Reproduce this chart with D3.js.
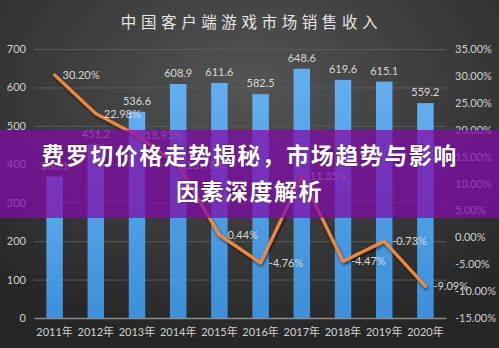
<!DOCTYPE html>
<html>
<head>
<meta charset="utf-8">
<script src="https://cdn.jsdelivr.net/npm/d3@7"></script>
<style>
  html, body { margin: 0; padding: 0; background: #333; }
  svg { display: block; }
</style>
</head>
<body>
<svg id="chart" width="499" height="348"></svg>
<script>
// Client game market revenue (亿元) and year-on-year growth (%)
const years = ["2011年","2012年","2013年","2014年","2015年","2016年","2017年","2018年","2019年","2020年"];
const revenue = [368.1, 451.2, 536.6, 608.9, 611.6, 582.5, 648.6, 619.6, 615.1, 559.2];
const growth = [30.20, 22.98, 18.93, 13.47, 0.44, -4.76, 11.35, -4.47, -0.73, -9.09];
const leftTicks = [0, 100, 200, 300, 400, 500, 600, 700];
const rightTicks = [-15, -10, -5, 0, 5, 10, 15, 20, 25, 30, 35];
const titleText = "中国客户端游戏市场销售收入";
const bannerLines = ["费罗切价格走势揭秘，市场趋势与影响", "因素深度解析"];

const W = 499, H = 348;
const svg = d3.select("#chart");
const defs = svg.append("defs");

const bg = defs.append("radialGradient").attr("id", "bg")
  .attr("cx", "50%").attr("cy", "25%").attr("r", "75%");
bg.append("stop").attr("offset", "0%").attr("stop-color", "#545454");
bg.append("stop").attr("offset", "100%").attr("stop-color", "#262626");

const barGrad = defs.append("linearGradient").attr("id", "barGrad")
  .attr("x1", 0).attr("y1", 0).attr("x2", 0).attr("y2", 1);
barGrad.append("stop").attr("offset", "0%").attr("stop-color", "#62aef0");
barGrad.append("stop").attr("offset", "100%").attr("stop-color", "#3c8fd8");

const shadow = defs.append("filter").attr("id", "lineShadow")
  .attr("x", "-10%").attr("y", "-10%").attr("width", "120%").attr("height", "130%");
shadow.append("feDropShadow").attr("dx", 1).attr("dy", 2).attr("stdDeviation", 1.5)
  .attr("flood-color", "#000").attr("flood-opacity", 0.6);

svg.append("rect").attr("width", W).attr("height", H).attr("fill", "url(#bg)");

const plot = { left: 34, right: 446, top: 49, bottom: 318 };

const x = d3.scaleBand().domain(years).range([plot.left, plot.right]).paddingInner(0.6).paddingOuter(0.3);
const y = d3.scaleLinear().domain([0, 700]).range([plot.bottom, plot.top]);
const y2 = d3.scaleLinear().domain([-15, 35]).range([plot.bottom, plot.top]);

// title
svg.append("text").attr("x", W / 2 + 2).attr("y", 28)
  .attr("text-anchor", "middle")
  .attr("font-family", "'Noto Sans CJK SC', sans-serif")
  .attr("font-size", 15.5).attr("letter-spacing", 4.6)
  .attr("fill", "#e6e6e6").text(titleText);

// grid lines
svg.append("g").selectAll("line").data(leftTicks.filter(d => d > 0)).join("line")
  .attr("x1", plot.left).attr("x2", plot.right)
  .attr("y1", d => y(d) + 0.5).attr("y2", d => y(d) + 0.5)
  .attr("stroke", "#5a5a5a").attr("stroke-width", 1);

// left axis
const axL = svg.append("g").attr("transform", `translate(${plot.left - 8},0)`)
  .call(d3.axisLeft(y).tickValues(leftTicks).tickSize(0).tickPadding(0));
axL.select(".domain").remove();
axL.selectAll("text").attr("fill", "#d0d0d0").attr("font-size", 11)
  .attr("font-family", "Lato, 'Open Sans', sans-serif");

// right axis
const axR = svg.append("g").attr("transform", `translate(${plot.right + 9},0)`)
  .call(d3.axisRight(y2).tickValues(rightTicks).tickSize(0).tickPadding(0)
    .tickFormat(d => d.toFixed(2) + "%"));
axR.select(".domain").remove();
axR.selectAll("text").attr("fill", "#d0d0d0").attr("font-size", 11)
  .attr("font-family", "Lato, 'Open Sans', sans-serif");

// bars
svg.append("g").selectAll("rect").data(revenue).join("rect")
  .attr("x", (d, i) => x(years[i]))
  .attr("width", x.bandwidth())
  .attr("y", d => y(d))
  .attr("height", d => y(0) - y(d))
  .attr("fill", "url(#barGrad)");

// bar value labels
svg.append("g").selectAll("text").data(revenue).join("text")
  .attr("x", (d, i) => x(years[i]) + x.bandwidth() / 2)
  .attr("y", d => y(d) - 7)
  .attr("text-anchor", "middle")
  .attr("font-family", "Lato, 'Open Sans', sans-serif")
  .attr("font-size", 11).attr("fill", "#d8d8d8")
  .text(d => d.toFixed(1));

// bottom axis
const axB = svg.append("g").attr("transform", `translate(0,${plot.bottom})`)
  .call(d3.axisBottom(x).tickSize(0).tickPadding(10));
axB.select(".domain").attr("stroke", "#8a8a8a").attr("stroke-width", 1.5);
axB.selectAll("text").attr("fill", "#d0d0d0").attr("font-size", 11)
  .attr("font-family", "Lato, 'Noto Sans CJK SC', sans-serif");

// growth line
const cx = (i) => x(years[i]) + x.bandwidth() / 2;
const line = d3.line().x((d, i) => cx(i)).y(d => y2(d));
svg.append("path").datum(growth)
  .attr("d", line).attr("fill", "none")
  .attr("stroke", "#ee8a3e").attr("stroke-width", 3.2)
  .attr("stroke-linejoin", "round").attr("stroke-linecap", "round")
  .attr("filter", "url(#lineShadow)");

// growth labels
svg.append("g").selectAll("text").data(growth).join("text")
  .attr("x", (d, i) => cx(i) + 8)
  .attr("y", d => y2(d) + 4)
  .attr("font-family", "Lato, 'Open Sans', sans-serif")
  .attr("font-size", 11).attr("fill", "#d8d8d8")
  .text(d => d.toFixed(2) + "%");

// headline banner
svg.append("rect").attr("x", 0).attr("y", 130).attr("width", W).attr("height", 88)
  .attr("fill", "rgb(128,12,170)").attr("fill-opacity", 0.75);

const banner = svg.append("g")
  .attr("font-family", "'Noto Sans CJK SC', sans-serif")
  .attr("font-weight", 700).attr("font-size", 23)
  .attr("text-anchor", "middle").attr("fill", "#ffffff");
banner.selectAll("text").data(bannerLines).join("text")
  .attr("x", W / 2)
  .attr("y", (d, i) => 164 + i * 36)
  .attr("letter-spacing", 1.5)
  .attr("stroke", "#3a0a40").attr("stroke-width", 0.6).attr("paint-order", "stroke")
  .text(d => d);
</script>
</body>
</html>
